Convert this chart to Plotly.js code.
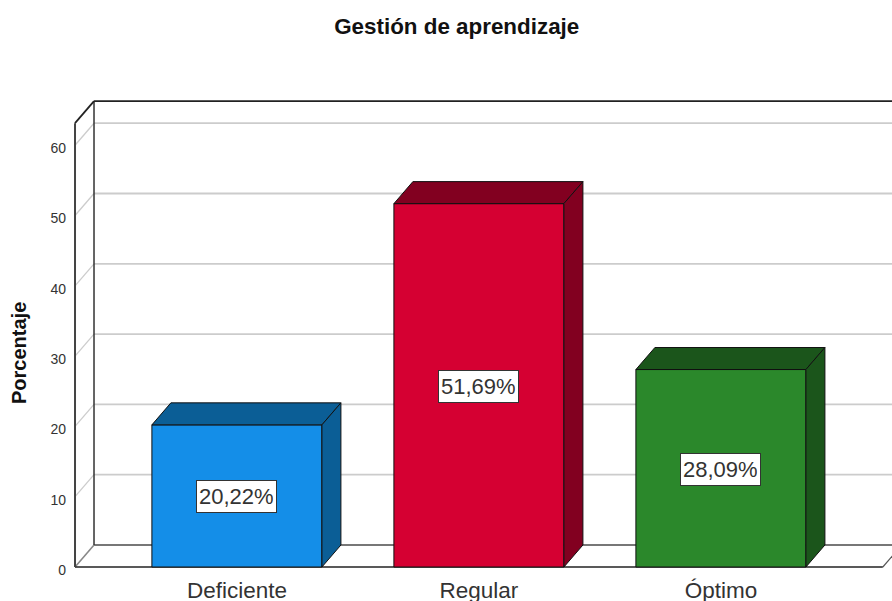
<!DOCTYPE html>
<html>
<head>
<meta charset="utf-8">
<script src="https://cdn.plot.ly/plotly-3.0.1.min.js"></script>
<style>
  html, body { margin: 0; padding: 0; background: #fff; overflow: hidden; }
</style>
</head>
<body>
<div id="chart" style="width:892px;height:601px"></div>
<script>
const categories = ['Deficiente', 'Regular', 'Óptimo'];
const values = [20.22, 51.69, 28.09];
const valueLabels = ['20,22%', '51,69%', '28,09%'];
const yTicks = [0, 10, 20, 30, 40, 50, 60];

const frontColors = ['#148EE8', '#D50032', '#2B882B'];
const depthColors = ['#0B5E96', '#820020', '#1B551B'];

// profundidad del efecto 3D, en unidades de los ejes
const depthX = 0.0785;
const depthY = 3.13;
const barWidth = 0.7025;
const xMin = -0.669;
const xFloorEnd = 2.669;
const xMax = 2.7066;
const wallTop = 60.0;

const font = '"Liberation Sans", Arial, sans-serif';

function line(x0, y0, x1, y1, color, width) {
  return {
    type: 'line', layer: 'below', xref: 'x', yref: 'y',
    x0: x0, y0: y0, x1: x1, y1: y1,
    line: { color: color, width: width }
  };
}

// lineas de cuadricula sobre la pared del fondo y la pared lateral
let shapes = [];
yTicks.slice(1).forEach(function (t) {
  shapes.push(line(xMin + depthX, t + depthY, xMax + depthX, t + depthY, '#CCCCCC', 1.8));
  shapes.push(line(xMin, t, xMin + depthX, t + depthY, '#CCCCCC', 1.3));
});

// marco
shapes.push(line(xMin + depthX, depthY, xMax + depthX, depthY, '#777777', 2.2));
shapes.push(line(xMin, 0, xMin + depthX, depthY, '#888888', 1.6));
shapes.push(line(xFloorEnd, 0, xFloorEnd + depthX, depthY, '#555555', 1.2));
shapes.push(line(xMin, 0, xFloorEnd, 0, '#222222', 1.4));
shapes.push(line(xMin, 0, xMin, wallTop + depthY, '#444444', 2));
shapes.push(line(xMin + depthX, depthY, xMin + depthX, wallTop + 2 * depthY, '#333333', 1.5));
shapes.push(line(xMin, wallTop + depthY, xMin + depthX, wallTop + 2 * depthY, '#222222', 1.8));
shapes.push(line(xMin + depthX, wallTop + 2 * depthY, xMax + depthX, wallTop + 2 * depthY, '#222222', 1.8));

let traces = [{
  type: 'bar',
  x: [0, 1, 2],
  y: values,
  width: barWidth,
  marker: { color: frontColors, line: { color: '#111111', width: 1 } },
  hoverinfo: 'skip'
}];

// cara superior y cara lateral de cada barra
values.forEach(function (v, i) {
  const left = i - barWidth / 2;
  const right = i + barWidth / 2;
  traces.push({
    type: 'scatter', mode: 'lines', fill: 'toself', fillcolor: depthColors[i],
    x: [left, left + depthX, right + depthX, right, left],
    y: [v, v + depthY, v + depthY, v, v],
    line: { color: '#111111', width: 1 }, hoverinfo: 'skip'
  });
  traces.push({
    type: 'scatter', mode: 'lines', fill: 'toself', fillcolor: depthColors[i],
    x: [right, right + depthX, right + depthX, right, right],
    y: [v, v + depthY, depthY, 0, v],
    line: { color: '#111111', width: 1 }, hoverinfo: 'skip'
  });
});

const annotations = values.map(function (v, i) {
  return {
    x: i, y: v / 2, xref: 'x', yref: 'y', yshift: -1,
    text: valueLabels[i], showarrow: false, height: 27,
    font: { family: font, size: 22, color: '#333333' },
    bgcolor: '#FFFFFF', bordercolor: '#333333', borderwidth: 1, borderpad: 2
  };
});

annotations.push({
  xref: 'paper', yref: 'paper',
  x: -0.0621, y: 0.4589, xanchor: 'center', yanchor: 'middle',
  text: 'Porcentaje', textangle: -90, showarrow: false,
  font: { family: font, size: 20, color: '#111111', weight: 'bold' }
});

const layout = {
  width: 892,
  height: 601,
  margin: { l: 70, r: 0, t: 96, b: 30 },
  paper_bgcolor: '#FFFFFF',
  plot_bgcolor: '#FFFFFF',
  showlegend: false,
  title: {
    text: 'Gestión de aprendizaje',
    font: { family: font, size: 22.4, color: '#111111', weight: 'bold' },
    xref: 'container', x: 0.512, xanchor: 'center',
    yref: 'container', y: 0.956, yanchor: 'middle'
  },
  xaxis: {
    type: 'linear',
    range: [-0.6897, 2.7070],
    tickmode: 'array',
    tickvals: [0, 1, 2],
    ticktext: categories,
    tickfont: { family: font, size: 22.5, color: '#333333' },
    ticklabelstandoff: 3,
    showgrid: false, zeroline: false, showline: false, ticks: ''
  },
  yaxis: {
    range: [-0.569, 67.0],
    tickmode: 'array',
    tickvals: yTicks,
    ticktext: yTicks.map(String),
    tickfont: { family: font, size: 14, color: '#333333' },
    ticklabelshift: 3,
    ticklabelstandoff: 3,
    showgrid: false, zeroline: false, showline: false, ticks: ''
  },
  shapes: shapes,
  annotations: annotations
};

Plotly.newPlot('chart', traces, layout, { displayModeBar: false, responsive: false });
</script>
</body>
</html>
